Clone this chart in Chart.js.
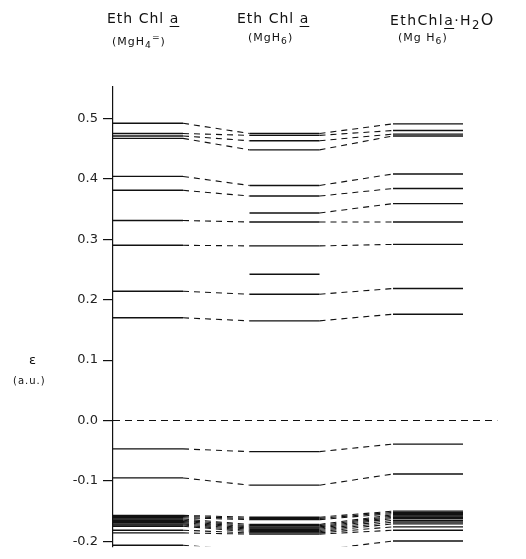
<!DOCTYPE html>
<html>
<head>
<meta charset="utf-8">
<script src="https://cdn.jsdelivr.net/npm/chart.js@4.4.1/dist/chart.umd.min.js"></script>
<style>
    html, body { margin: 0; padding: 0; background: #fff; }
    #wrap { position: relative; width: 526px; height: 559px; overflow: hidden; font-family: "DejaVu Sans", sans-serif; color: #111; }
    #chart { position: absolute; left: 0; top: 0; }
    .lbl { position: absolute; white-space: nowrap; letter-spacing: 1px; }
    .h1 { font-size: 14px; }
    .h2 { font-size: 11px; }
    .u { text-decoration: underline; text-underline-offset: 3px; text-decoration-thickness: 1px; }
</style>
</head>
<body>
<div id="wrap">
    <canvas id="chart" width="526" height="559"></canvas>
    <div class="lbl h1" style="left:107px; top:10px;">Eth Chl <span class="u">a</span></div>
    <div class="lbl h2" style="left:112px; top:31px;">(MgH<sub>4</sub><sup>=</sup>)</div>
    <div class="lbl h1" style="left:237px; top:10px;">Eth Chl <span class="u">a</span></div>
    <div class="lbl h2" style="left:248px; top:31px;">(MgH<sub>6</sub>)</div>
    <div class="lbl h1" style="left:390px; top:10px; letter-spacing:1.4px;">EthChl<span class="u">a</span>·H<sub>2</sub><span style="font-size:16px;">O</span></div>
    <div class="lbl h2" style="left:398px; top:31px;">(Mg H<sub>6</sub>)</div>
    <div class="lbl" style="left:29px; top:352px; font-size:13px;">ε</div>
    <div class="lbl" style="left:13px; top:375px; font-size:10px;">(a.u.)</div>
</div>
<script>
// orbital energies (a.u.), one entry per correlated level; null = level not drawn in that column
const mgh4Levels = [
    0.492, 0.475, 0.471, 0.467,
    0.404, 0.381, null, 0.331,
    0.290, null, 0.214, 0.170,
    -0.047, -0.095,
    -0.157, -0.159, -0.161, -0.163, -0.165, -0.167, -0.169, -0.171, -0.173, -0.175,
    -0.1815, -0.186, -0.2065,
];
const mgh6Levels = [
    0.475, 0.472, 0.463, 0.448,
    0.389, 0.3715, 0.3435, 0.3285,
    0.289, 0.242, 0.209, 0.165,
    -0.0515, -0.107,
    -0.160, -0.162, -0.164, -0.172, -0.174, -0.176, -0.178, -0.180, -0.182, -0.184,
    -0.186, -0.188, -0.214,
];
const hydrateLevels = [
    0.491, 0.480, 0.474, 0.471,
    0.408, 0.384, 0.359, 0.3285,
    0.2915, null, 0.2185, 0.176,
    -0.039, -0.0885,
    -0.150, -0.152, -0.154, -0.156, -0.158, -0.160, -0.162, -0.165, -0.168, -0.171,
    -0.176, -0.1815, -0.1995,
];
const zeroLevel = 0.0;
const yTicks = [0.5, 0.4, 0.3, 0.2, 0.1, 0.0, -0.1, -0.2];

// column spans on the x scale
const COLS = [[0, 1], [1.95, 2.95], [4, 5]];
const INK = '#111';

const datasets = mgh4Levels.map((_, i) => {
    const vals = [mgh4Levels[i], mgh6Levels[i], hydrateLevels[i]];
    const data = [];
    COLS.forEach((c, k) => {
        data.push({ x: c[0], y: vals[k] });
        data.push({ x: c[1], y: vals[k] });
    });
    return {
        data,
        borderColor : INK,
        borderWidth : 1.4,
        pointRadius : 0,
        spanGaps    : false,
        segment: {
            borderDash  : ctx => (ctx.p0DataIndex % 2 === 1 ? [6, 5] : undefined),
            borderWidth : ctx => (ctx.p0DataIndex % 2 === 1 ? 1.1 : 1.4),
        },
    };
});

datasets.push({
    data        : [{ x: 0, y: zeroLevel }, { x: 5.49, y: zeroLevel }],
    borderColor : INK,
    borderWidth : 1.1,
    borderDash  : [7, 5],
    pointRadius : 0,
});

new Chart(document.getElementById('chart'), {
    type: 'line',
    data: { datasets },
    options: {
        responsive : false,
        animation  : false,
        layout     : { padding: { top: 87, left: 0, right: 0, bottom: 0 } },
        plugins    : { legend: { display: false }, tooltip: { enabled: false } },
        scales: {
            x: {
                type    : 'linear',
                min     : 0,
                max     : 5.9,
                display : false,
            },
            y: {
                min : -0.208,
                max : 0.552,
                afterFit: scale => { scale.width = 113; },
                afterBuildTicks: scale => { scale.ticks = yTicks.map(v => ({ value: v })); },
                border: { display: true, color: INK, width: 1.2 },
                grid: {
                    drawOnChartArea : false,
                    drawTicks       : true,
                    tickLength      : 10,
                    color           : INK,
                    lineWidth       : 1.2,
                },
                ticks: {
                    padding  : 5,
                    color    : '#222',
                    font     : { family: 'DejaVu Sans', size: 13 },
                    callback : v => v.toFixed(1),
                },
            },
        },
    },
});
</script>
</body>
</html>
